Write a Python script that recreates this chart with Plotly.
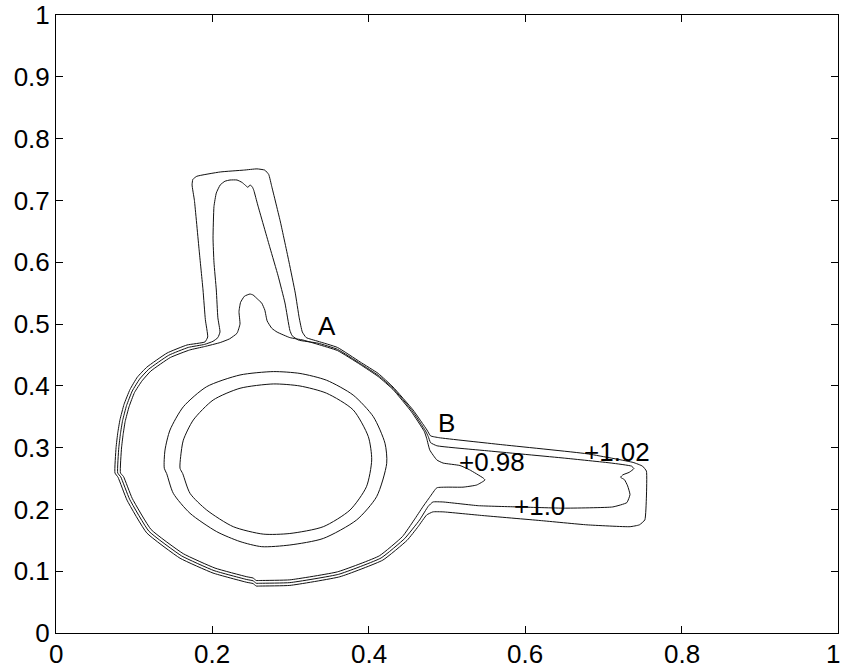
import plotly.graph_objects as go

# Contour level 1.02 (outermost)
c102_x = [0.1905, 0.194, 0.191, 0.188, 0.183, 0.177, 0.174, 0.175, 0.180, 0.210, 0.240, 0.257, 0.267, 0.272,
          0.276, 0.287, 0.298, 0.306, 0.311, 0.315, 0.320, 0.335, 0.360, 0.389, 0.412, 0.431, 0.4565, 0.4744,
          0.479, 0.490, 0.568, 0.679, 0.738, 0.750, 0.755, 0.755, 0.753, 0.746, 0.734, 0.679, 0.619, 0.546,
          0.495, 0.482, 0.474, 0.463, 0.449, 0.418, 0.363, 0.299, 0.262, 0.256, 0.252, 0.244, 0.2008, 0.1586,
          0.116, 0.0908, 0.0793, 0.0754, 0.0768, 0.0790, 0.0818, 0.0870, 0.0946, 0.104, 0.116, 0.142, 0.1675,
          0.1905]
c102_y = [0.471, 0.479, 0.507, 0.555, 0.620, 0.700, 0.725, 0.734, 0.739, 0.746, 0.749, 0.751, 0.749, 0.742,
          0.722, 0.665, 0.600, 0.550, 0.510, 0.487, 0.478, 0.472, 0.462, 0.4385, 0.420, 0.398, 0.361, 0.3285,
          0.319, 0.316, 0.305, 0.290, 0.276, 0.270, 0.262, 0.220, 0.183, 0.175, 0.172, 0.175, 0.182, 0.190,
          0.196, 0.196, 0.191, 0.172, 0.150, 0.118, 0.091, 0.077, 0.076, 0.076, 0.080, 0.082, 0.097, 0.121,
          0.162, 0.215, 0.252, 0.259, 0.300, 0.324, 0.345, 0.370, 0.394, 0.414, 0.430, 0.453, 0.466, 0.471]

# Contour level 1.0 (middle)
c100_x = [0.2008, 0.207, 0.2097, 0.207, 0.205, 0.202, 0.2008, 0.202, 0.205, 0.210, 0.216, 0.2225, 0.2315,
          0.238, 0.2417, 0.2455, 0.248, 0.251, 0.253, 0.258, 0.2737, 0.284, 0.2928, 0.299, 0.302, 0.310,
          0.335, 0.360, 0.389, 0.412, 0.431, 0.4555, 0.4725, 0.476, 0.479, 0.487, 0.550, 0.650, 0.710,
          0.736, 0.739, 0.733, 0.725, 0.722, 0.727, 0.731, 0.734, 0.730, 0.712, 0.650, 0.591, 0.540, 0.495,
          0.482, 0.476, 0.465, 0.446, 0.4157, 0.3615, 0.299, 0.262, 0.256, 0.252, 0.244, 0.202, 0.1607,
          0.1188, 0.0941, 0.0828, 0.0789, 0.0803, 0.0824, 0.0851, 0.0902, 0.0975, 0.107, 0.1186, 0.1441,
          0.1692, 0.190, 0.2008]
c100_y = [0.472, 0.478, 0.487, 0.510, 0.555, 0.600, 0.639, 0.690, 0.712, 0.725, 0.731, 0.733, 0.733,
          0.729, 0.725, 0.721, 0.725, 0.722, 0.716, 0.6925, 0.623, 0.578, 0.534, 0.490, 0.481, 0.474,
          0.469, 0.459, 0.436, 0.417, 0.396, 0.3595, 0.327, 0.318, 0.308, 0.303, 0.295, 0.283, 0.275,
          0.270, 0.266, 0.260, 0.256, 0.252, 0.248, 0.238, 0.224, 0.211, 0.204, 0.202, 0.204, 0.206, 0.212,
          0.212, 0.205, 0.183, 0.153, 0.1214, 0.095, 0.0815, 0.0805, 0.0805, 0.0845, 0.0865, 0.101, 0.1247,
          0.1647, 0.2165, 0.2526, 0.259, 0.2997, 0.3225, 0.3435, 0.368, 0.3916, 0.411, 0.4269, 0.4494,
          0.4621, 0.467, 0.472]

# Contour level 0.98 (inner)
c098_x = [0.171, 0.190, 0.210, 0.222, 0.2315, 0.2353, 0.234, 0.236, 0.241, 0.248, 0.252, 0.258, 0.263,
          0.267, 0.270, 0.276, 0.2826, 0.299, 0.316, 0.335, 0.360, 0.389, 0.412, 0.431, 0.4545, 0.471,
          0.474, 0.478, 0.487, 0.495, 0.5166, 0.529, 0.546, 0.5486, 0.538, 0.5205, 0.500, 0.487, 0.478,
          0.469, 0.458, 0.443, 0.4134, 0.360, 0.299, 0.262, 0.256, 0.252, 0.244, 0.2034, 0.1628, 0.1216,
          0.0974, 0.0863, 0.0824, 0.0838, 0.0858, 0.0884, 0.0934, 0.1004, 0.110, 0.1212, 0.1462, 0.171]
c098_y = [0.458, 0.4635, 0.470, 0.476, 0.485, 0.500, 0.520, 0.535, 0.545, 0.5485, 0.547, 0.540, 0.534,
          0.5227, 0.505, 0.493, 0.487, 0.478, 0.474, 0.467, 0.457, 0.4345, 0.415, 0.394, 0.358, 0.326,
          0.315, 0.296, 0.280, 0.275, 0.271, 0.264, 0.251, 0.2476, 0.2395, 0.236, 0.236, 0.235, 0.220,
          0.204, 0.183, 0.156, 0.1248, 0.099, 0.086, 0.085, 0.085, 0.089, 0.091, 0.105, 0.1283, 0.1674,
          0.218, 0.2532, 0.259, 0.2994, 0.321, 0.342, 0.366, 0.3892, 0.408, 0.4238, 0.4458, 0.458]

# Inner ring contours
inner_a_x = [0.278, 0.2353, 0.1927, 0.1628, 0.1458, 0.1394, 0.1385, 0.1415, 0.150, 0.1714, 0.2055, 0.2353,
             0.263, 0.299, 0.3418, 0.3845, 0.410, 0.4229, 0.4207, 0.4058, 0.380, 0.346, 0.312, 0.278]
inner_a_y = [0.423, 0.4175, 0.3986, 0.366, 0.3285, 0.296, 0.2665, 0.258, 0.226, 0.1937, 0.164, 0.148,
             0.1397, 0.1424, 0.153, 0.183, 0.2206, 0.2746, 0.307, 0.350, 0.385, 0.409, 0.420, 0.423]
inner_b_x = [0.278, 0.2353, 0.201, 0.1756, 0.1628, 0.1594, 0.1586, 0.162, 0.1714, 0.1927, 0.2267, 0.265,
             0.299, 0.3418, 0.376, 0.397, 0.4037, 0.3994, 0.380, 0.346, 0.312, 0.278]
inner_b_y = [0.403, 0.396, 0.377, 0.3447, 0.312, 0.2853, 0.2665, 0.258, 0.226, 0.199, 0.172, 0.160,
             0.161, 0.172, 0.199, 0.2367, 0.280, 0.3177, 0.361, 0.388, 0.3997, 0.403]

# Text labels
label_text = ["A", "B", "+0.98", "+1.0", "+1.02"]
label_x = [0.334, 0.487, 0.514, 0.584, 0.674]
label_y = [0.497, 0.340, 0.277, 0.205, 0.293]

tick_vals = [0, 0.2, 0.4, 0.6, 0.8, 1]
tick_text = ["0", "0.2", "0.4", "0.6", "0.8", "1"]
ytick_vals = [0, 0.1, 0.2, 0.3, 0.4, 0.5, 0.6, 0.7, 0.8, 0.9, 1]
ytick_text = ["0", "0.1", "0.2", "0.3", "0.4", "0.5", "0.6", "0.7", "0.8", "0.9", "1"]

fig = go.Figure()
traces = [(c102_x, c102_y, 0.4), (c100_x, c100_y, 0.4), (c098_x, c098_y, 0.4),
          (inner_a_x, inner_a_y, 0.7), (inner_b_x, inner_b_y, 0.7)]
for xs, ys, sm in traces:
    fig.add_trace(go.Scatter(x=xs, y=ys, mode="lines",
                             line=dict(color="#111111", width=1, shape="spline", smoothing=sm),
                             showlegend=False, hoverinfo="skip"))

font = dict(family="Liberation Sans, Arial", size=26, color="black")

for t, x, y in zip(label_text, label_x, label_y):
    fig.add_annotation(x=x, y=y, text=t, showarrow=False, xanchor="left", yanchor="middle",
                       font=font, borderpad=0)

# x tick labels placed below the axis (as in the original, the last one hugs the right edge)
for v, t in zip(tick_vals, tick_text):
    fig.add_annotation(x=v, y=0, xref="x", yref="paper", text=t, showarrow=False,
                       xanchor="right" if v == 1 else "center", yanchor="middle",
                       yshift=-21, xshift=3 if v == 1 else 0,
                       font=font, borderpad=0)

fig.update_layout(
    width=845, height=671,
    margin=dict(l=56, r=7, t=15, b=38),
    paper_bgcolor="white", plot_bgcolor="white",
    font=font,
    xaxis=dict(range=[0, 1], tickvals=tick_vals, ticks="inside", ticklen=7, showticklabels=False,
               tickcolor="black", showgrid=False, zeroline=False, showline=True, linecolor="black",
               linewidth=1, mirror="ticks", automargin=False),
    yaxis=dict(range=[0, 1], tickvals=ytick_vals, ticktext=ytick_text, ticks="inside", ticklen=7,
               tickcolor="black", showgrid=False, zeroline=False, showline=True, linecolor="black",
               linewidth=1, mirror="ticks", tickfont=font, automargin=False),
)
fig.write_html("out.html")
